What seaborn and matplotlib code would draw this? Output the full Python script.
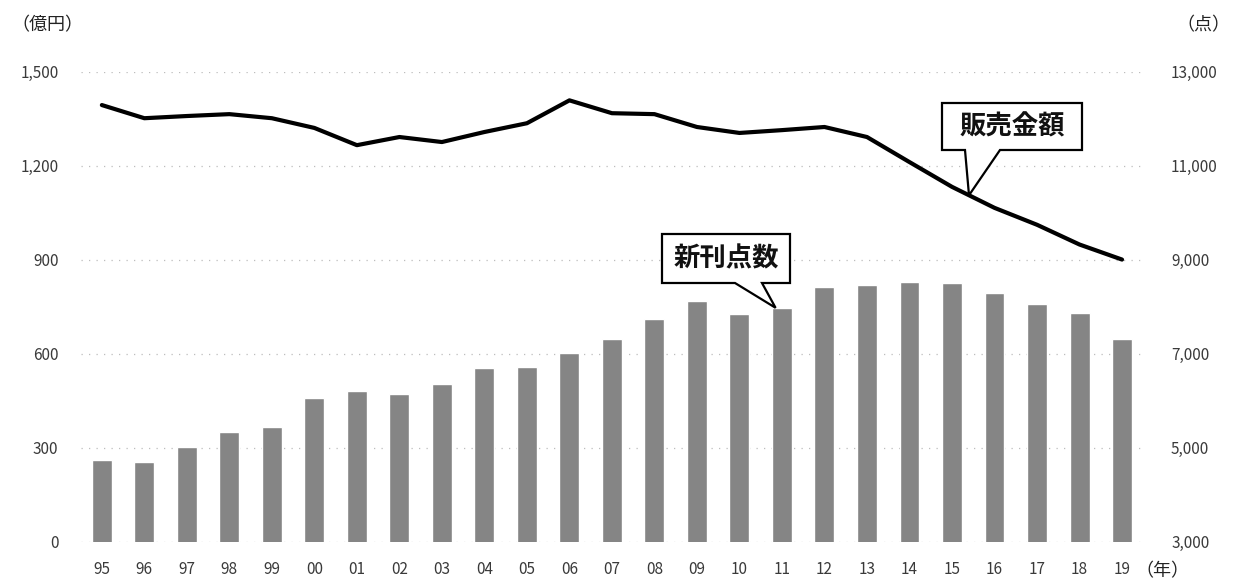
import numpy as np
import pandas as pd
import matplotlib
matplotlib.use("Agg")
import matplotlib.pyplot as plt
import seaborn as sns
from matplotlib.patches import Polygon
from matplotlib.ticker import FuncFormatter

# 文庫市場: 販売金額 (億円) と 新刊点数 (点), 1995-2019
years = ["95", "96", "97", "98", "99", "00", "01", "02", "03", "04", "05", "06",
         "07", "08", "09", "10", "11", "12", "13", "14", "15", "16", "17", "18", "19"]
sales = [1394, 1352, 1359, 1365, 1352, 1321, 1266, 1292, 1276, 1308, 1336, 1409,
         1368, 1365, 1324, 1305, 1314, 1324, 1292, 1212, 1133, 1066, 1012, 949, 901]
titles = [4740, 4700, 5010, 5330, 5440, 6070, 6220, 6140, 6350, 6710, 6730, 7010,
          7320, 7750, 8130, 7850, 7980, 8430, 8470, 8530, 8510, 8300, 8060, 7870, 7320]
sales_ticks = [0, 300, 600, 900, 1200, 1500]
title_ticks = [3000, 5000, 7000, 9000, 11000, 13000]

sns.set_theme(style="white")
plt.rcParams["font.family"] = ["Noto Sans CJK JP", "DejaVu Sans"]

W, H = 1240, 584
fig = plt.figure(figsize=(W / 100, H / 100), dpi=100)
ax = fig.add_axes([0.065, 0.072, 0.857, 0.805])
ax2 = ax.twinx()

df = pd.DataFrame({"year": years, "titles": titles, "sales": sales})
idx = np.arange(len(years))

# bars: new titles on the right axis
sns.barplot(data=df, x="year", y="titles", ax=ax2, color="#858585",
            width=0.47, saturation=1)
ax2.set_ylim(title_ticks[0], title_ticks[-1])
ax2.set_yticks(title_ticks)
ax2.set_axisbelow(True)
ax2.yaxis.grid(True, linestyle=(0, (1, 5)), color="#bdbdbd", linewidth=0.9)
ax2.set_ylabel("")

# line: sales on the left axis, drawn above the bars
ax.set_zorder(ax2.get_zorder() + 1)
ax.patch.set_visible(False)
sns.lineplot(x=idx, y=df["sales"], ax=ax, color="black", linewidth=3)
ax.set_ylim(sales_ticks[0], sales_ticks[-1])
ax.set_yticks(sales_ticks)
ax.set_xlim(-0.5, len(years) - 0.5)
ax.set_xticks(idx)
ax.set_xticklabels(years)
ax.set_xlabel("")
ax.set_ylabel("")
ax.grid(False)

fmt = FuncFormatter(lambda v, p: f"{int(v):,}")
ax.yaxis.set_major_formatter(fmt)
ax2.yaxis.set_major_formatter(fmt)

tick_color = "#3a3a3a"
ax.tick_params(axis="y", length=0, pad=16, labelsize=11, labelcolor=tick_color)
ax.tick_params(axis="x", length=0, pad=14, labelsize=11, labelcolor=tick_color)
ax2.tick_params(axis="y", length=0, pad=20, labelsize=11, labelcolor=tick_color)
for a in (ax, ax2):
    for s in a.spines.values():
        s.set_visible(False)

# unit labels
fig.text(47 / W, 1 - 25 / H, "（億円）", ha="center", va="center", fontsize=13, color="#222222")
fig.text(1203 / W, 1 - 25 / H, "（点）", ha="center", va="center", fontsize=13, color="#222222")
fig.text(1162 / W, 1 - 571 / H, "（年）", ha="center", va="center", fontsize=13, color="#222222")


def to_fig(px, py):
    return px / W, 1 - py / H


def callout(axis, tip_xy, box, base, label):
    """Rectangular callout whose wedge points at a data position."""
    left, top, right, bottom = box
    tip_disp = axis.transData.transform(tip_xy)
    tip = fig.transFigure.inverted().transform(tip_disp)
    pts = [to_fig(left, top), to_fig(right, top), to_fig(right, bottom),
           to_fig(base[1], bottom), tuple(tip), to_fig(base[0], bottom),
           to_fig(left, bottom)]
    poly = Polygon(pts, closed=True, facecolor="white", edgecolor="black",
                   linewidth=1.6, transform=fig.transFigure, zorder=10)
    fig.add_artist(poly)
    cx, cy = to_fig((left + right) / 2, (top + bottom) / 2)
    fig.text(cx, cy, label, ha="center", va="center", fontsize=19,
             fontweight="bold", color="#111111", zorder=11)


tip_x = 20.4
callout(ax, (tip_x, np.interp(tip_x, idx, sales)), (942, 103, 1082, 150),
        (965, 1000), "販売金額")
callout(ax2, (15.85, titles[16]), (662, 234, 790, 283), (735, 762), "新刊点数")

fig.savefig("out.png", dpi=100)
